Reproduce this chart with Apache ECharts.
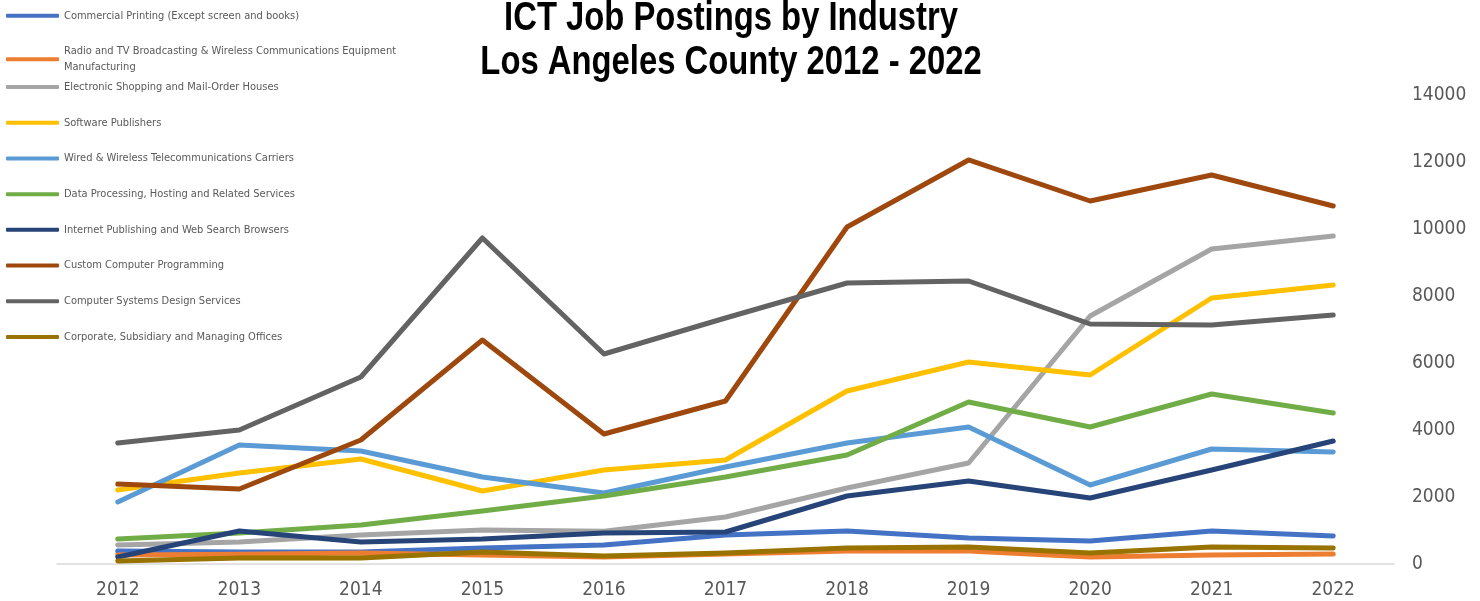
<!DOCTYPE html>
<html>
<head>
<meta charset="utf-8">
<script src="https://cdn.jsdelivr.net/npm/echarts@6/dist/echarts.min.js"></script>
<style>
html,body{margin:0;padding:0;background:#fff;}
#chart{width:1480px;height:601px;}
</style>
</head>
<body>
<div id="chart"></div>
<script>
const years = ['2012','2013','2014','2015','2016','2017','2018','2019','2020','2021','2022'];
const yTicks = [0,2000,4000,6000,8000,10000,12000,14000];
const titleLines = ['ICT Job Postings by Industry', 'Los Angeles County 2012 - 2022'];

const commercialPrinting = [388, 358, 358, 478, 567, 866, 985, 776, 687, 985, 836];
const radioTV = [269, 290, 328, 269, 209, 298, 388, 388, 209, 269, 298];
const electronicShopping = [567, 657, 866, 1015, 980, 1403, 2269, 3015, 7403, 9403, 9791];
const softwarePublishers = [2209, 2716, 3134, 2179, 2806, 3104, 5164, 6030, 5642, 7940, 8328];
const telecomCarriers = [1851, 3552, 3373, 2597, 2119, 2896, 3612, 4090, 2358, 3433, 3343];
const dataProcessing = [746, 925, 1164, 1582, 2030, 2597, 3254, 4836, 4090, 5075, 4507];
const internetPublishing = [209, 985, 657, 746, 925, 955, 2030, 2478, 1970, 2806, 3672];
const customProgramming = [2388, 2239, 3701, 6687, 3880, 4866, 10060, 12060, 10836, 11612, 10687];
const systemsDesign = [3612, 4000, 5582, 9731, 6269, 7343, 8388, 8448, 7164, 7134, 7433];
const corporateOffices = [90, 179, 179, 358, 239, 328, 478, 507, 328, 507, 478];

const seriesNames = [
  'Commercial Printing (Except screen and books)',
  'Radio and TV Broadcasting & Wireless Communications Equipment\nManufacturing',
  'Electronic Shopping and Mail-Order Houses',
  'Software Publishers',
  'Wired & Wireless Telecommunications Carriers',
  'Data Processing, Hosting and Related Services',
  'Internet Publishing and Web Search Browsers',
  'Custom Computer Programming',
  'Computer Systems Design Services',
  'Corporate, Subsidiary and Managing Offices'
];
const seriesData = [commercialPrinting, radioTV, electronicShopping, softwarePublishers, telecomCarriers,
  dataProcessing, internetPublishing, customProgramming, systemsDesign, corporateOffices];
const seriesColors = ['#4472C4','#ED7D31','#A5A5A5','#FFC000','#5B9BD5','#70AD47','#264478','#9E480E','#636363','#997300'];

const narrow = "'Liberation Sans Narrow', 'Arial Narrow', 'DejaVu Sans Condensed', sans-serif";
const legendText = {fontFamily: narrow, fontSize: 11, color: '#595959', lineHeight: 15.5};

const chart = echarts.init(document.getElementById('chart'), null, {renderer: 'canvas'});
chart.setOption({
  animation: false,
  backgroundColor: '#fff',
  graphic: [{
    type: 'text', x: 731, y: 41, scaleX: 0.82, originX: 0, originY: 0, z: 100,
    style: {
      text: titleLines.join('\n'),
      fontFamily: "'Liberation Sans', Arial, sans-serif", fontWeight: 'bold', fontSize: 40, lineHeight: 44,
      fill: '#000', align: 'center', verticalAlign: 'middle'
    }
  }],
  legend: [
    {
      orient: 'vertical', left: 6, top: 8, itemGap: 12.4, padding: 0,
      itemWidth: 53, itemHeight: 4, icon: 'roundRect',
      textStyle: legendText,
      data: [
        {name: seriesNames[0]},
        {name: seriesNames[1], textStyle: {padding: [15.5, 0, 0, 0]}}
      ]
    },
    {
      orient: 'vertical', left: 6, top: 79.3, itemGap: 20.2, padding: 0,
      itemWidth: 53, itemHeight: 4, icon: 'roundRect',
      textStyle: legendText,
      data: seriesNames.slice(2)
    }
  ],
  grid: {left: 57, right: 86, top: 95, bottom: 37, containLabel: false, outerBoundsMode: 'none'},
  xAxis: {
    type: 'category', data: years, boundaryGap: true,
    axisLine: {lineStyle: {color: '#d9d9d9', width: 1.5}},
    axisTick: {show: false},
    axisLabel: {fontFamily: narrow, fontSize: 19, color: '#595959', margin: 17}
  },
  yAxis: {
    type: 'value', position: 'right', min: yTicks[0], max: yTicks[yTicks.length-1], interval: 2000,
    axisLine: {show: false}, axisTick: {show: false}, splitLine: {show: false},
    axisLabel: {fontFamily: narrow, fontSize: 19, color: '#595959', margin: 18, formatter: v => String(v)}
  },
  series: seriesNames.map((n, i) => ({
    name: n, type: 'line', data: seriesData[i],
    showSymbol: false, symbol: 'none',
    color: seriesColors[i],
    lineStyle: {width: 5, color: seriesColors[i], cap: 'round', join: 'round'},
    itemStyle: {color: seriesColors[i]},
    z: 2 + i
  }))
});
</script>
</body>
</html>
